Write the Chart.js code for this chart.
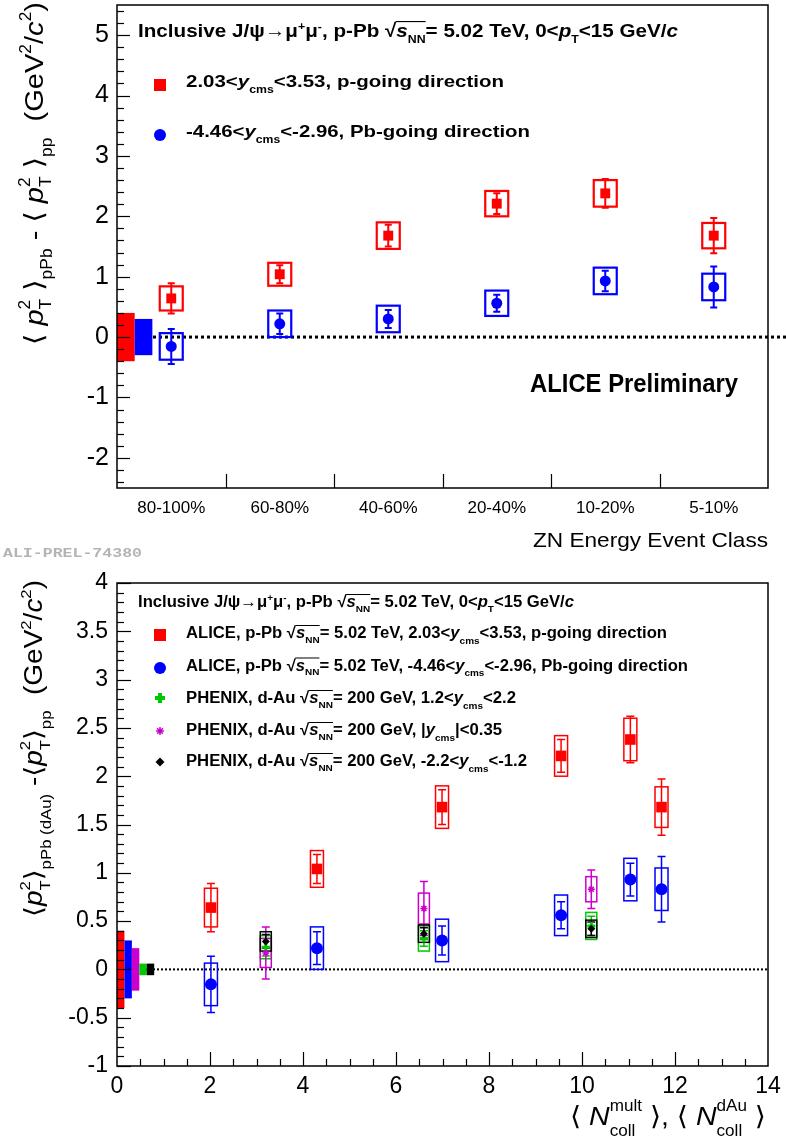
<!DOCTYPE html>
<html>
<head>
<meta charset="utf-8">
<script src="https://cdn.jsdelivr.net/npm/chart.js@4/dist/chart.umd.min.js"></script>
<style>
  html, body { margin: 0; padding: 0; background: #fff; }
  #wrap { position: relative; width: 786px; height: 1138px; }
  canvas { position: absolute; left: 0; }
</style>
</head>
<body>
<div id="wrap">
  <canvas id="top" width="786" height="560" style="top:0"></canvas>
  <canvas id="bottom" width="786" height="578" style="top:560px"></canvas>
</div>
<script>
// ---- top panel: <pT^2> shift vs ZN energy event class ----
const classes = ['80-100%', '60-80%', '40-60%', '20-40%', '10-20%', '5-10%'];
const pGoingVals = [0.64, 1.04, 1.68, 2.21, 2.38, 1.68];
const pGoingStat = [0.25, 0.15, 0.18, 0.17, 0.24, 0.29];
const pGoingSys = [0.20, 0.19, 0.22, 0.21, 0.22, 0.21];
const pbGoingVals = [-0.155, 0.22, 0.30, 0.56, 0.93, 0.83];
const pbGoingStat = [0.29, 0.17, 0.15, 0.14, 0.17, 0.34];
const pbGoingSys = [0.22, 0.22, 0.22, 0.21, 0.22, 0.22];
const yTopTicks = [-2, -1, 0, 1, 2, 3, 4, 5];

// ---- bottom panel: same shift vs <Ncoll>, with PHENIX d-Au ----
const ncollAlice = [2.02, 4.30, 6.99, 9.55, 11.04, 11.71];
const ncollDAu = [3.2, 6.6, 10.2];
const phenixFwd = [0.23, 0.32, 0.45];
const phenixFwdStat = [0.09, 0.08, 0.10];
const phenixFwdSys = [0.12, 0.13, 0.14];
const phenixMid = [0.17, 0.63, 0.83];
const phenixMidStat = [0.27, 0.28, 0.20];
const phenixMidSys = [0.15, 0.16, 0.13];
const phenixBwd = [0.29, 0.37, 0.42];
const phenixBwdStat = [0.07, 0.06, 0.07];
const phenixBwdSys = [0.10, 0.09, 0.09];
const yBottomTicks = [-1, -0.5, 0, 0.5, 1, 1.5, 2, 2.5, 3, 3.5, 4];
const xBottomTicks = [0, 2, 4, 6, 8, 10, 12, 14];

// global (correlated) uncertainties drawn at the left edge
const globalTop = [0.40, 0.30];                      // p-going, Pb-going
const globalBottom = [0.40, 0.30, 0.22, 0.06, 0.06]; // ALICE p, ALICE Pb, PHENIX mid, fwd, bwd

const RED = '#ff0000', BLUE = '#0000ff', GREEN = '#00c800', MAGENTA = '#cc00cc', BLACK = '#000000';
const SANS = '"Liberation Sans", Arial, Helvetica, "DejaVu Sans", sans-serif';

// ---------- rich text (sub/superscripts, radicals) ----------
function layoutRich(ctx, segs, base) {
  let cur = 0, lastStart = 0;
  const items = segs.map(seg => {
    const size = base.size * (seg.s || 1);
    const font = (seg.it ? 'italic ' : '') + (base.weight || 'normal') + ' ' + size + 'px ' + (base.family || SANS);
    ctx.font = font;
    const m = ctx.measureText(seg.t);
    const x0 = seg.stack ? lastStart : cur;
    if (!seg.stack) lastStart = x0;
    cur = seg.stack ? Math.max(cur, x0 + m.width) : x0 + m.width;
    return { seg, font, x0, w: m.width, asc: m.actualBoundingBoxAscent, dy: (seg.dy || 0) * base.size };
  });
  return { items, width: cur };
}

function drawRich(ctx, x, y, segs, base, opts = {}) {
  ctx.save();
  const { items, width } = layoutRich(ctx, segs, base);
  const w = opts.width || width;
  ctx.translate(x, y);
  if (opts.rotate) ctx.rotate(opts.rotate);
  if (opts.align === 'right') ctx.translate(-w, 0);
  ctx.scale(w / width, 1);
  ctx.fillStyle = base.color || '#000';
  ctx.strokeStyle = base.color || '#000';
  ctx.textAlign = 'left';
  ctx.textBaseline = 'alphabetic';
  let ov = null;
  items.forEach(it => {
    ctx.font = it.font;
    ctx.fillText(it.seg.t, it.x0, it.dy);
    if (it.seg.ov === 'start') ov = { x: it.x0 + it.w - 0.5, y: -it.asc + base.size * 0.03 };
    if (it.seg.ov === 'end' && ov) {
      ctx.lineWidth = Math.max(1, base.size * 0.06);
      ctx.beginPath();
      ctx.moveTo(ov.x, ov.y);
      ctx.lineTo(it.x0 + it.w, ov.y);
      ctx.stroke();
      ov = null;
    }
  });
  ctx.restore();
}

const sqrtS = () => [{ t: '√', ov: 'start' }, { t: 's', it: true }, { t: 'NN', s: 0.6, dy: 0.3, ov: 'end' }];
const yCms = () => [{ t: 'y', it: true }, { t: 'cms', s: 0.6, dy: 0.35 }];
const pT2 = () => [{ t: 'p', it: true }, { t: '2', s: 0.6, dy: -0.5 }, { t: 'T', s: 0.6, dy: 0.32, stack: true }];
const header = () => [
  { t: 'Inclusive J/ψ→μ' }, { t: '+', s: 0.6, dy: -0.35 }, { t: 'μ' }, { t: '-', s: 0.6, dy: -0.35 },
  { t: ', p-Pb ' }, ...sqrtS(), { t: '= 5.02 TeV, 0<' }, { t: 'p', it: true }, { t: 'T', s: 0.6, dy: 0.3 },
  { t: '<15 GeV/' }, { t: 'c', it: true }
];

function marker(ctx, style, r, color, x, y, bw) {
  ctx.save();
  ctx.fillStyle = color;
  ctx.strokeStyle = color;
  ctx.lineWidth = bw || 0;
  if (Chart.helpers && Chart.helpers.drawPoint) {
    Chart.helpers.drawPoint(ctx, { pointStyle: style, radius: r, rotation: 0, borderWidth: bw || 0 }, x, y);
  } else {
    ctx.beginPath(); ctx.arc(x, y, r, 0, Math.PI * 2); ctx.fill();
  }
  ctx.restore();
}

// ticks pointing into the frame, ROOT style
function yTicksInside(ctx, a, ys, minor, major, lenMaj, lenMin) {
  const n0 = Math.ceil(ys.min / minor - 1e-6), n1 = Math.floor(ys.max / minor + 1e-6);
  for (let n = n0; n <= n1; n++) {
    const v = n * minor;
    const isMaj = Math.abs(v / major - Math.round(v / major)) < 1e-6;
    const p = Math.round(ys.getPixelForValue(v)) + 0.5;
    ctx.beginPath(); ctx.moveTo(a.left, p); ctx.lineTo(a.left + (isMaj ? lenMaj : lenMin), p); ctx.stroke();
  }
}

function frame(ctx, a) {
  ctx.strokeStyle = '#000';
  ctx.lineWidth = 1.5;
  ctx.strokeRect(a.left, a.top, a.right - a.left, a.bottom - a.top);
}

// fixed axis sizes, no extra room for overhanging labels
const fixY = s => { s.width = 117; s.paddingTop = 0; s.paddingBottom = 0; };
const fixX = s => { s.height = 72; s.paddingLeft = 0; s.paddingRight = 0; };

// ---------- stat error bars + systematic boxes ----------
const errorPlugin = {
  id: 'errors',
  beforeDatasetsDraw(chart) {
    const ctx = chart.ctx, ys = chart.scales.y;
    ctx.save();
    chart.data.datasets.forEach((ds, di) => {
      const meta = chart.getDatasetMeta(di);
      meta.data.forEach((pt, i) => {
        const d = ds.data[i];
        const v = typeof d === 'object' ? d.y : d;
        const px = pt.x;
        ctx.strokeStyle = ds.color;
        // systematic box
        ctx.lineWidth = ds.boxLw;
        const t = ys.getPixelForValue(v + ds.sys[i]), b = ys.getPixelForValue(v - ds.sys[i]);
        ctx.strokeRect(px - ds.boxHalf, t, 2 * ds.boxHalf, b - t);
        // statistical bar
        ctx.lineWidth = ds.errLw;
        const et = ys.getPixelForValue(v + ds.stat[i]), eb = ys.getPixelForValue(v - ds.stat[i]);
        ctx.beginPath();
        ctx.moveTo(px, et); ctx.lineTo(px, eb);
        ctx.moveTo(px - ds.capHalf, et); ctx.lineTo(px + ds.capHalf, et);
        ctx.moveTo(px - ds.capHalf, eb); ctx.lineTo(px + ds.capHalf, eb);
        ctx.stroke();
      });
    });
    ctx.restore();
  }
};

// ---------- top panel ----------
const topDecor = {
  id: 'topDecor',
  beforeDatasetsDraw(chart) {
    const { ctx, chartArea: a, scales: { x, y } } = chart;
    const y0 = y.getPixelForValue(0);
    ctx.save();
    ctx.strokeStyle = '#000'; ctx.lineWidth = 3; ctx.setLineDash([3, 3]);
    ctx.beginPath(); ctx.moveTo(a.left, y0); ctx.lineTo(chart.width, y0); ctx.stroke();
    ctx.setLineDash([]);
    const cols = [RED, BLUE];
    let xs = -0.5;
    globalTop.forEach((g, i) => {
      const l = x.getPixelForValue(xs), r = x.getPixelForValue(xs + 0.163);
      const t = y.getPixelForValue(g), b = y.getPixelForValue(-g);
      ctx.fillStyle = cols[i];
      ctx.fillRect(l, t, r - l, b - t);
      xs += 0.163;
    });
    ctx.restore();
  },
  afterDraw(chart) {
    const { ctx, chartArea: a, scales: { x, y } } = chart;
    ctx.save();
    frame(ctx, a);
    ctx.lineWidth = 1.2;
    yTicksInside(ctx, a, y, 0.2, 1, 13, 7);
    for (let i = 0; i < classes.length - 1; i++) {
      const p = Math.round(x.getPixelForValue(i + 0.5)) + 0.5;
      ctx.beginPath(); ctx.moveTo(p, a.bottom); ctx.lineTo(p, a.bottom - 14); ctx.stroke();
    }
    const bold = { size: 19, weight: 'bold' };
    drawRich(ctx, 138, 37, header(), bold, { width: 540 });
    const leg = { size: 17, weight: 'bold' };
    marker(ctx, 'rect', 8.5, RED, 160, 85);
    drawRich(ctx, 186, 87, [{ t: '2.03<' }, ...yCms(), { t: '<3.53, p-going direction' }], leg, { width: 318 });
    marker(ctx, 'circle', 6, BLUE, 160, 135);
    drawRich(ctx, 186, 137, [{ t: '-4.46<' }, ...yCms(), { t: '<-2.96, Pb-going direction' }], leg, { width: 344 });
    drawRich(ctx, 530, 392, [{ t: 'ALICE Preliminary' }], { size: 26, weight: 'bold' }, { width: 208 });
    drawRich(ctx, 768, 547, [{ t: 'ZN Energy Event Class' }], { size: 21 }, { width: 235, align: 'right' });
    const title = [{ t: '⟨ ' }, ...pT2(), { t: ' ⟩' }, { t: 'pPb', s: 0.6, dy: 0.35 }, { t: ' - ⟨ ' }, ...pT2(),
      { t: ' ⟩' }, { t: 'pp', s: 0.6, dy: 0.35 }, { t: '  (GeV' }, { t: '2', s: 0.6, dy: -0.45 }, { t: '/' },
      { t: 'c', it: true }, { t: '2', s: 0.6, dy: -0.45 }, { t: ')' }];
    drawRich(ctx, 43, 345, title, { size: 26 }, { rotate: -Math.PI / 2, width: 343 });
    drawRich(ctx, 3, 557, [{ t: 'ALI-PREL-74380' }],
      { size: 13, weight: 'bold', family: '"Liberation Mono", "DejaVu Sans Mono", monospace', color: '#b4b4b4' },
      { width: 139 });
    ctx.restore();
  }
};

new Chart(document.getElementById('top'), {
  type: 'line',
  data: {
    labels: classes,
    datasets: [
      { label: 'p-going', data: pGoingVals, stat: pGoingStat, sys: pGoingSys, color: RED,
        showLine: false, pointStyle: 'rect', pointRadius: 7, pointBackgroundColor: RED, pointBorderWidth: 0,
        boxHalf: 11.5, capHalf: 3.5, boxLw: 2.2, errLw: 2 },
      { label: 'Pb-going', data: pbGoingVals, stat: pbGoingStat, sys: pbGoingSys, color: BLUE,
        showLine: false, pointStyle: 'circle', pointRadius: 5.5, pointBackgroundColor: BLUE, pointBorderWidth: 0,
        boxHalf: 11.5, capHalf: 3.5, boxLw: 2.2, errLw: 2 }
    ]
  },
  options: {
    responsive: false,
    animation: false,
    events: [],
    layout: { autoPadding: false, padding: { top: 5, right: 18, left: 0, bottom: 0 } },
    plugins: { legend: { display: false }, tooltip: { enabled: false } },
    scales: {
      x: {
        offset: true,
        grid: { display: false, drawTicks: false },
        border: { display: false },
        ticks: { color: '#000', font: { family: SANS, size: 17 }, padding: 10, maxRotation: 0, autoSkip: false },
        afterFit: fixX
      },
      y: {
        min: -2.5, max: 5.5,
        grid: { display: false, drawTicks: false },
        border: { display: false },
        afterBuildTicks: s => { s.ticks = yTopTicks.map(v => ({ value: v })); },
        ticks: { color: '#000', font: { family: SANS, size: 25 }, padding: 8, callback: v => String(v) },
        afterFit: fixY
      }
    }
  },
  plugins: [topDecor, errorPlugin]
});

// ---------- bottom panel ----------
const toXY = (xs, ys) => xs.map((x, i) => ({ x, y: ys[i] }));

const bottomDecor = {
  id: 'bottomDecor',
  beforeDatasetsDraw(chart) {
    const { ctx, chartArea: a, scales: { x, y } } = chart;
    const y0 = y.getPixelForValue(0);
    ctx.save();
    ctx.strokeStyle = '#000'; ctx.lineWidth = 2; ctx.setLineDash([2, 2]);
    ctx.beginPath(); ctx.moveTo(a.left, y0); ctx.lineTo(a.right, y0); ctx.stroke();
    ctx.setLineDash([]);
    const cols = [RED, BLUE, MAGENTA, GREEN, BLACK];
    globalBottom.forEach((g, i) => {
      const l = x.getPixelForValue(i * 0.16), r = x.getPixelForValue((i + 1) * 0.16);
      const t = y.getPixelForValue(g), b = y.getPixelForValue(-g);
      ctx.fillStyle = cols[i];
      ctx.fillRect(l, t, r - l, b - t);
    });
    ctx.restore();
  },
  afterDraw(chart) {
    const { ctx, chartArea: a, scales: { x, y } } = chart;
    ctx.save();
    frame(ctx, a);
    ctx.lineWidth = 1.2;
    yTicksInside(ctx, a, y, 0.1, 0.5, 14, 7);
    for (let n = 1; n < 28; n++) {
      const v = n * 0.5;
      const p = Math.round(x.getPixelForValue(v)) + 0.5;
      ctx.beginPath(); ctx.moveTo(p, a.bottom); ctx.lineTo(p, a.bottom - (n % 4 === 0 ? 14 : 7)); ctx.stroke();
    }
    const bold = { size: 16, weight: 'bold' };
    drawRich(ctx, 138, 47, header(), bold, { width: 436 });
    marker(ctx, 'rect', 8.5, RED, 160, 75);
    drawRich(ctx, 186, 78, [{ t: 'ALICE, p-Pb ' }, ...sqrtS(), { t: '= 5.02 TeV, 2.03<' }, ...yCms(),
      { t: '<3.53, p-going direction' }], bold, { width: 481 });
    marker(ctx, 'circle', 6, BLUE, 160, 108);
    drawRich(ctx, 186, 110.5, [{ t: 'ALICE, p-Pb ' }, ...sqrtS(), { t: '= 5.02 TeV, -4.46<' }, ...yCms(),
      { t: '<-2.96, Pb-going direction' }], bold, { width: 502 });
    marker(ctx, 'cross', 5, GREEN, 160, 138, 4);
    drawRich(ctx, 186, 143, [{ t: 'PHENIX, d-Au ' }, ...sqrtS(), { t: '= 200 GeV, 1.2<' }, ...yCms(),
      { t: '<2.2' }], bold, { width: 330 });
    marker(ctx, 'star', 4, MAGENTA, 160, 171, 1.5);
    drawRich(ctx, 186, 175, [{ t: 'PHENIX, d-Au ' }, ...sqrtS(), { t: '= 200 GeV, |' }, ...yCms(),
      { t: '|<0.35' }], bold, { width: 316 });
    marker(ctx, 'rectRot', 4.5, BLACK, 160, 202);
    drawRich(ctx, 186, 206, [{ t: 'PHENIX, d-Au ' }, ...sqrtS(), { t: '= 200 GeV, -2.2<' }, ...yCms(),
      { t: '<-1.2' }], bold, { width: 341 });
    const title = [{ t: '⟨' }, ...pT2(), { t: '⟩' }, { t: 'pPb (dAu)', s: 0.6, dy: 0.35 }, { t: ' -⟨' }, ...pT2(),
      { t: '⟩' }, { t: 'pp', s: 0.6, dy: 0.35 }, { t: '  (GeV' }, { t: '2', s: 0.6, dy: -0.45 }, { t: '/' },
      { t: 'c', it: true }, { t: '2', s: 0.6, dy: -0.45 }, { t: ')' }];
    drawRich(ctx, 42, 357, title, { size: 25 }, { rotate: -Math.PI / 2, width: 337 });
    const xTitle = [{ t: '⟨ ' }, { t: 'N', it: true }, { t: 'mult', s: 0.6, dy: -0.55 },
      { t: 'coll', s: 0.6, dy: 0.42, stack: true }, { t: ' ⟩, ⟨ ' }, { t: 'N', it: true },
      { t: 'dAu', s: 0.6, dy: -0.55 }, { t: 'coll', s: 0.6, dy: 0.42, stack: true }, { t: ' ⟩' }];
    drawRich(ctx, 766, 565, xTitle, { size: 26 }, { width: 196, align: 'right' });
    ctx.restore();
  }
};

const common = { boxLw: 1.5, errLw: 1.5, capHalf: 4, pointBorderWidth: 0 };
new Chart(document.getElementById('bottom'), {
  type: 'scatter',
  data: {
    datasets: [
      { ...common, label: 'ALICE p-going', data: toXY(ncollAlice, pGoingVals), stat: pGoingStat, sys: pGoingSys,
        color: RED, pointStyle: 'rect', pointRadius: 7.5, pointBackgroundColor: RED, boxHalf: 6.5, order: 0 },
      { ...common, label: 'ALICE Pb-going', data: toXY(ncollAlice, pbGoingVals), stat: pbGoingStat, sys: pbGoingSys,
        color: BLUE, pointStyle: 'circle', pointRadius: 6, pointBackgroundColor: BLUE, boxHalf: 6.5, order: 0 },
      { ...common, label: 'PHENIX fwd', data: toXY(ncollDAu, phenixFwd), stat: phenixFwdStat, sys: phenixFwdSys,
        color: GREEN, pointStyle: 'cross', pointRadius: 4, pointBorderWidth: 3, pointBorderColor: GREEN, boxHalf: 5.5, order: 3 },
      { ...common, label: 'PHENIX mid', data: toXY(ncollDAu, phenixMid), stat: phenixMidStat, sys: phenixMidSys,
        color: MAGENTA, pointStyle: 'star', pointRadius: 3.5, pointBorderWidth: 1.5, pointBorderColor: MAGENTA, boxHalf: 5.5, order: 2 },
      { ...common, label: 'PHENIX bwd', data: toXY(ncollDAu, phenixBwd), stat: phenixBwdStat, sys: phenixBwdSys,
        color: BLACK, pointStyle: 'rectRot', pointRadius: 4, pointBackgroundColor: BLACK, boxHalf: 5.5, order: 1 }
    ]
  },
  options: {
    responsive: false,
    animation: false,
    events: [],
    layout: { autoPadding: false, padding: { top: 23, right: 18, left: 0, bottom: 0 } },
    plugins: { legend: { display: false }, tooltip: { enabled: false } },
    scales: {
      x: {
        type: 'linear', min: 0, max: 14,
        grid: { display: false, drawTicks: false },
        border: { display: false },
        afterBuildTicks: s => { s.ticks = xBottomTicks.map(v => ({ value: v })); },
        ticks: { color: '#000', font: { family: SANS, size: 23 }, padding: 7, maxRotation: 0, callback: v => String(v) },
        afterFit: fixX
      },
      y: {
        min: -1, max: 4,
        grid: { display: false, drawTicks: false },
        border: { display: false },
        afterBuildTicks: s => { s.ticks = yBottomTicks.map(v => ({ value: v })); },
        ticks: { color: '#000', font: { family: SANS, size: 23 }, padding: 9, callback: v => String(v) },
        afterFit: fixY
      }
    }
  },
  plugins: [bottomDecor, errorPlugin]
});
</script>
</body>
</html>
